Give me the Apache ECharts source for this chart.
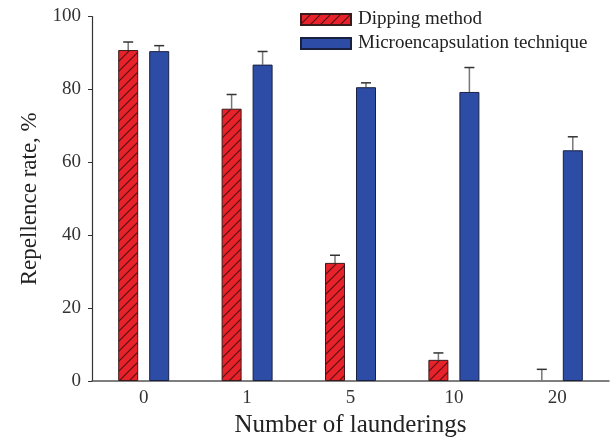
<!DOCTYPE html>
<html>
<head>
<meta charset="utf-8">
<script src="https://cdn.jsdelivr.net/npm/echarts@6/dist/echarts.min.js"></script>
<style>
  html, body { margin: 0; padding: 0; background: #fff; }
  #chart { width: 614px; height: 443px; }
</style>
</head>
<body>
<div id="chart"></div>
<script>
var categories = ['0', '1', '5', '10', '20'];
var dippingValues = [90.8, 74.7, 32.4, 5.8, 0];
var dippingErrors = [2.2, 3.9, 2.1, 1.9, 3.2];
var microValues = [90.5, 86.8, 80.6, 79.3, 63.3];
var microErrors = [1.5, 3.6, 1.2, 6.7, 3.7];
var yTicks = [0, 20, 40, 60, 80, 100];

var serif = '"Liberation Serif", "Times New Roman", serif';
var barW = 20;
var barGapPx = 11;

// red fill with dark diagonal hatching
function hatchPattern() {
  var c = document.createElement('canvas');
  c.width = 10; c.height = 10;
  var ctx = c.getContext('2d');
  ctx.fillStyle = '#e8222a';
  ctx.fillRect(0, 0, 10, 10);
  ctx.strokeStyle = '#5a1010';
  ctx.lineWidth = 1.2;
  ctx.beginPath();
  ctx.moveTo(0, 10); ctx.lineTo(10, 0);
  ctx.moveTo(-2, 2); ctx.lineTo(2, -2);
  ctx.moveTo(8, 12); ctx.lineTo(12, 8);
  ctx.stroke();
  return c;
}

function errorSeries(values, errors, side) {
  var data = values.map(function (v, i) { return [i, v, v + errors[i]]; });
  return {
    type: 'custom',
    silent: true,
    z: 1,
    renderItem: function (params, api) {
      var off = side * (barW + barGapPx) / 2;
      var low = api.coord([api.value(0), api.value(1)]);
      var high = api.coord([api.value(0), api.value(2)]);
      var x = low[0] + off;
      return {
        type: 'group',
        children: [
          { type: 'line', shape: { x1: x, y1: low[1], x2: x, y2: high[1] },
            style: { stroke: '#777', lineWidth: 1.5 } },
          { type: 'line', shape: { x1: x - 5, y1: high[1], x2: x + 5, y2: high[1] },
            style: { stroke: '#333', lineWidth: 1.5 } }
        ]
      };
    },
    data: data
  };
}

// a zero bar is not drawn at all in the original
function barData(values) {
  return values.map(function (v) {
    return v === 0 ? { value: 0, itemStyle: { borderWidth: 0, opacity: 0 } } : v;
  });
}

var chart = echarts.init(document.getElementById('chart'));

var option = {
  backgroundColor: '#fff',
  animation: false,
  textStyle: { fontFamily: serif },
  legend: {
    orient: 'vertical',
    left: 300,
    top: 10,
    padding: 0,
    itemWidth: 50,
    itemHeight: 11,
    itemGap: 5,
    icon: 'rect',
    data: ['Dipping method', 'Microencapsulation technique'],
    textStyle: { fontFamily: serif, fontSize: 19, color: '#222', padding: [0, 0, 0, 2] }
  },
  grid: { left: 92, right: 5, top: 16.5, bottom: 55.5, containLabel: false },
  xAxis: {
    type: 'category',
    data: categories,
    name: 'Number of launderings',
    nameLocation: 'middle',
    nameGap: 32,
    nameTextStyle: { fontFamily: serif, fontSize: 25, color: '#222' },
    axisLine: { lineStyle: { color: '#555', width: 1.5 } },
    axisTick: { alignWithLabel: true, length: 5, lineStyle: { color: '#555' } },
    axisLabel: { fontFamily: serif, fontSize: 19, color: '#333', margin: 8 }
  },
  yAxis: {
    type: 'value',
    min: yTicks[0],
    max: yTicks[yTicks.length - 1],
    interval: 20,
    name: 'Repellence rate, %',
    nameLocation: 'middle',
    nameGap: 49,
    nameRotate: 90,
    nameTextStyle: { fontFamily: serif, fontSize: 23, color: '#222' },
    axisLine: { show: true, lineStyle: { color: '#333', width: 1.2 } },
    axisTick: { show: true, length: 4, lineStyle: { color: '#333' } },
    axisLabel: { fontFamily: serif, fontSize: 19, color: '#333', margin: 11 },
    splitLine: { show: false }
  },
  series: [
    {
      name: 'Dipping method',
      type: 'bar',
      barWidth: barW,
      barGap: (barGapPx / barW * 100) + '%',
      z: 2,
      itemStyle: {
        color: { image: hatchPattern(), repeat: 'repeat' },
        borderColor: '#3a1a1a',
        borderWidth: 1
      },
      data: barData(dippingValues)
    },
    {
      name: 'Microencapsulation technique',
      type: 'bar',
      barWidth: barW,
      z: 2,
      itemStyle: {
        color: '#2d4ca6',
        borderColor: '#1a2040',
        borderWidth: 1
      },
      data: barData(microValues)
    },
    errorSeries(dippingValues, dippingErrors, -1),
    errorSeries(microValues, microErrors, 1)
  ]
};

chart.setOption(option);
</script>
</body>
</html>
